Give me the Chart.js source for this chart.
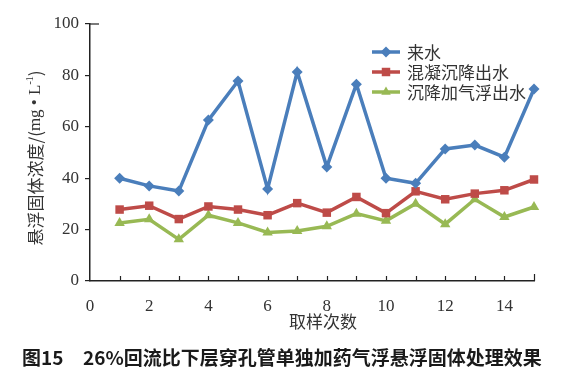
<!DOCTYPE html>
<html>
<head>
<meta charset="utf-8">
<script src="https://cdn.jsdelivr.net/npm/chart.js@4"></script>
<style>
  html, body { margin: 0; padding: 0; background: #fff; }
  #wrap { width: 565px; height: 376px; position: relative; }
</style>
</head>
<body>
<div id="wrap"><canvas id="chart" width="565" height="376"></canvas></div>
<script>
// sampling number 1..15
const samples = [1, 2, 3, 4, 5, 6, 7, 8, 9, 10, 11, 12, 13, 14, 15]
// inflow
const inflow = [40, 37, 35, 62.6, 77.8, 35.8, 81.3, 44.4, 76.6, 40, 38, 51.4, 52.9, 48.2, 74.7]
// coagulation + sedimentation effluent
const sedOut = [27.8, 29.3, 24.1, 29, 27.8, 25.6, 30.3, 26.6, 32.7, 26.4, 34.9, 31.8, 34, 35.3, 39.5]
// sedimentation + air flotation effluent
const flotOut = [22.6, 24, 16.2, 25.6, 22.6, 18.9, 19.5, 21.3, 26.2, 23.4, 30.1, 22.1, 31.8, 24.9, 28.8]

const seriesNames = ['来水', '混凝沉降出水', '沉降加气浮出水']
const yTicks = [0, 20, 40, 60, 80, 100]
const xLabels = [0, 2, 4, 6, 8, 10, 12, 14]

const BLUE = '#4A7EBB'
const RED = '#BE4B48'
const GREEN = '#98B954'
const AXIS = '#222222'
const TXT = '#333333'

const zip = (ys) => samples.map((x, i) => ({ x, y: ys[i] }))

// inward x ticks, legend, axis titles and caption
const decor = {
  id: 'decor',
  afterDraw(chart) {
    const ctx = chart.ctx
    const xs = chart.scales.x
    const ys = chart.scales.y
    const y0 = ys.getPixelForValue(0)

    ctx.save()
    ctx.strokeStyle = AXIS
    ctx.lineWidth = 1.2
    for (let i = 1; i <= 15; i++) {
      const px = Math.round(xs.getPixelForValue(i)) + 0.5
      ctx.beginPath()
      ctx.moveTo(px, y0)
      ctx.lineTo(px, y0 - (i === 15 ? 7 : 5))
      ctx.stroke()
    }
    // small inward tick at top of y axis
    const yTop = ys.getPixelForValue(100)
    const ax = xs.getPixelForValue(0)
    ctx.beginPath()
    ctx.moveTo(ax, yTop)
    ctx.lineTo(ax + 9, yTop)
    ctx.stroke()
    ctx.restore()

    // legend
    const colors = [BLUE, RED, GREEN]
    const shapes = ['rectRot', 'rect', 'triangle']
    const rows = [52, 72, 92]
    ctx.save()
    ctx.font = '17px "Noto Sans CJK SC"'
    ctx.textBaseline = 'middle'
    rows.forEach((ry, i) => {
      ctx.strokeStyle = colors[i]
      ctx.lineWidth = 3.5
      ctx.beginPath()
      ctx.moveTo(372, ry)
      ctx.lineTo(400, ry)
      ctx.stroke()
      ctx.fillStyle = colors[i]
      Chart.helpers.drawPoint(ctx, {
        pointStyle: shapes[i], radius: i === 1 ? 6 : 5.5, borderWidth: 0
      }, 386, ry)
      ctx.fillStyle = TXT
      ctx.fillText(seriesNames[i], 407, ry + 1)
    })
    ctx.restore()

    // y axis title (rotated)
    ctx.save()
    ctx.translate(36, 158)
    ctx.rotate(-Math.PI / 2)
    ctx.fillStyle = TXT
    ctx.textBaseline = 'middle'
    const big = '17px "Noto Sans CJK SC"'
    const serif = '17px "Liberation Serif"'
    const sup = '10px "Liberation Serif"'
    const parts = [
      { t: '悬浮固体浓度/(', f: big, dy: 0 },
      { t: 'mg • L', f: serif, dy: 0 },
      { t: '-1', f: sup, dy: -6 },
      { t: ')', f: big, dy: 0 }
    ]
    let total = 0
    parts.forEach(p => { ctx.font = p.f; p.w = ctx.measureText(p.t).width; total += p.w })
    let cx = -total / 2
    parts.forEach(p => { ctx.font = p.f; ctx.fillText(p.t, cx, p.dy); cx += p.w })
    ctx.restore()

    // x axis title
    ctx.save()
    ctx.fillStyle = TXT
    ctx.font = '17px "Noto Sans CJK SC"'
    ctx.textAlign = 'center'
    ctx.textBaseline = 'middle'
    ctx.fillText('取样次数', 323, 322)
    ctx.restore()

    // caption
    ctx.save()
    ctx.fillStyle = '#1a1a1a'
    ctx.font = 'bold 19px "Noto Sans CJK SC"'
    ctx.textBaseline = 'middle'
    ctx.fillText('图15', 22, 358)
    ctx.fillText('26%回流比下层穿孔管单独加药气浮悬浮固体处理效果', 83, 358, 464)
    ctx.restore()
  }
}

const mkSet = (label, data, color, style, r) => ({
  label,
  data: zip(data),
  borderColor: color,
  backgroundColor: color,
  pointBackgroundColor: color,
  pointBorderColor: color,
  pointBorderWidth: 0,
  pointStyle: style,
  pointRadius: r,
  borderWidth: 3.5,
  tension: 0,
  fill: false,
  clip: false
})

new Chart(document.getElementById('chart').getContext('2d'), {
  type: 'line',
  data: {
    datasets: [
      mkSet(seriesNames[0], inflow, BLUE, 'rectRot', 5.5),
      mkSet(seriesNames[1], sedOut, RED, 'rect', 6),
      mkSet(seriesNames[2], flotOut, GREEN, 'triangle', 6)
    ]
  },
  options: {
    responsive: false,
    animation: false,
    devicePixelRatio: 1,
    layout: { padding: { left: 0, right: 31, top: 24, bottom: 0 } },
    plugins: { legend: { display: false }, tooltip: { enabled: false } },
    scales: {
      x: {
        type: 'linear',
        min: 0,
        max: 15,
        afterFit(scale) { scale.height = 95 },
        afterBuildTicks(scale) { scale.ticks = xLabels.map(v => ({ value: v })) },
        grid: { display: false },
        border: { display: true, color: AXIS, width: 1.5 },
        ticks: {
          autoSkip: false,
          maxRotation: 0,
          padding: 7,
          color: TXT,
          font: { family: '"Liberation Serif"', size: 17 }
        }
      },
      y: {
        min: 0,
        max: 100,
        afterFit(scale) { scale.width = 90 },
        afterBuildTicks(scale) { scale.ticks = yTicks.map(v => ({ value: v })) },
        grid: { drawOnChartArea: false, drawTicks: true, tickLength: 5, color: AXIS, lineWidth: 1.2 },
        border: { display: true, color: AXIS, width: 1.5 },
        ticks: {
          padding: 6,
          color: TXT,
          font: { family: '"Liberation Serif"', size: 17 }
        }
      }
    }
  },
  plugins: [decor]
})
</script>
</body>
</html>
